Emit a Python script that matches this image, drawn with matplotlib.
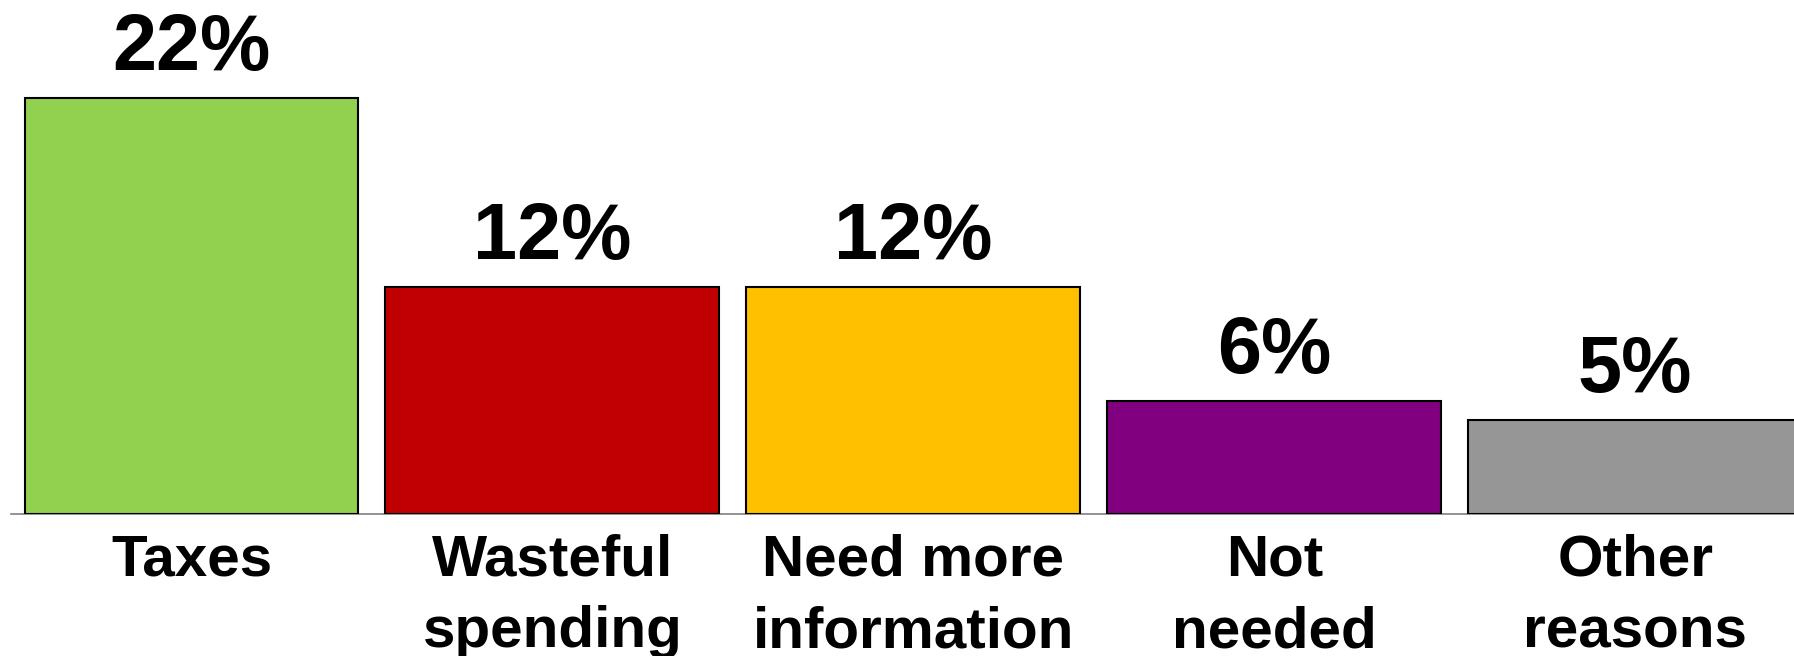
import matplotlib
matplotlib.use("Agg")
import matplotlib.pyplot as plt

categories = ["Taxes", "Wasteful\nspending", "Need more\ninformation", "Not\nneeded", "Other\nreasons"]
values = [22, 12, 12, 6, 5]
colors = ["#92D050", "#C00000", "#FFC000", "#800080", "#969696"]

plt.rcParams['font.family'] = ['Liberation Sans', 'DejaVu Sans']

fig = plt.figure(figsize=(17.94, 6.56), dpi=100)
ax = fig.add_axes([11 / 1794, 142 / 656, 1 - 11 / 1794, 514 / 656])

x = list(range(len(values)))
bars = ax.bar(x, values, width=0.925, color=colors, edgecolor="black", linewidth=1.5, zorder=3)

for xi, v in zip(x, values):
    ax.annotate(f"{v}%", xy=(xi, v), xytext=(0, 11), textcoords="offset pixels",
                ha="center", va="bottom", fontsize=57, fontweight="bold")

ax.set_xlim(-0.5, 4.44)
ax.set_ylim(0, 27.2)
ax.set_xticks(x)
ax.set_xticklabels(categories, fontsize=42, fontweight="bold", linespacing=1.42)
ax.tick_params(axis="x", length=0, pad=14)
ax.set_yticks([])
for side in ["top", "left", "right"]:
    ax.spines[side].set_visible(False)
ax.spines["bottom"].set_color("#808080")
ax.spines["bottom"].set_linewidth(1.2)
ax.patch.set_alpha(0)

fig.savefig("out.png", dpi=100)
